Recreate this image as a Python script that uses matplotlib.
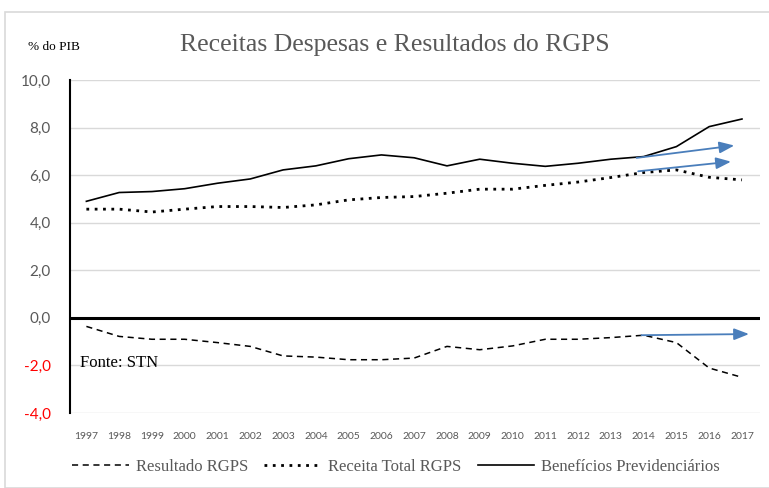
import matplotlib
matplotlib.use("Agg")
import matplotlib.pyplot as plt
from matplotlib.patches import Rectangle

# dados (% do PIB)
anos = list(range(1997, 2018))
beneficios = [4.9, 5.27, 5.31, 5.43, 5.66, 5.84, 6.22, 6.39, 6.69, 6.85, 6.73,
              6.39, 6.67, 6.50, 6.37, 6.50, 6.67, 6.78, 7.20, 8.04, 8.36]
receita = [4.57, 4.57, 4.45, 4.57, 4.68, 4.68, 4.64, 4.75, 4.96, 5.06, 5.10,
           5.24, 5.41, 5.41, 5.57, 5.71, 5.90, 6.11, 6.22, 5.91, 5.80]
resultado = [-0.36, -0.78, -0.90, -0.90, -1.04, -1.20, -1.60, -1.65, -1.76, -1.76, -1.69,
             -1.20, -1.34, -1.18, -0.90, -0.90, -0.83, -0.73, -1.04, -2.11, -2.50]

# setas de tendencia (inicio -> fim)
seta_x0 = [2013.7, 2013.75, 2013.85]
seta_y0 = [6.71, 6.15, -0.73]
seta_x1 = [2016.85, 2016.75, 2017.3]
seta_y1 = [7.26, 6.58, -0.68]

y_ticks = [-4, -2, 0, 2, 4, 6, 8, 10]

cinza = "#595959"
serif = "Liberation Serif"
sans = "Lato"

fig = plt.figure(figsize=(7.69, 4.88), dpi=100)
# moldura do grafico (estilo Excel)
fig.patches.append(Rectangle((5 / 769, 0), 1, 1 - 12 / 488, transform=fig.transFigure,
                             fill=False, edgecolor="#d9d9d9", linewidth=1.2))

ax = fig.add_axes([70 / 769, (488 - 413) / 488, 690 / 769, 333 / 488])

ax.plot(anos, resultado, color="black", linestyle=(0, (4, 3)), linewidth=1.1,
        label="Resultado RGPS")
ax.plot(anos, receita, color="black", linestyle=(0, (1, 2)), linewidth=2.0,
        label="Receita Total RGPS")
ax.plot(anos, beneficios, color="black", linestyle="-", linewidth=1.2,
        label="Benefícios Previdenciários")

for x0, y0, x1, y1 in zip(seta_x0, seta_y0, seta_x1, seta_y1):
    ax.annotate("", xy=(x1, y1), xytext=(x0, y0),
                arrowprops=dict(arrowstyle="-|>,head_length=0.9,head_width=0.35",
                                color="#4a7ebb", linewidth=1.3))

ax.axhline(0, color="black", linewidth=2.2, zorder=3)

ax.set_xlim(1996.5, 2017.55)
ax.set_ylim(-4, 10)
ax.set_yticks(y_ticks)
ax.set_yticklabels([f"{v:.1f}".replace(".", ",") for v in y_ticks],
                   fontsize=11, color=cinza, family=sans)
for lbl, v in zip(ax.get_yticklabels(), y_ticks):
    if v < 0:
        lbl.set_color("#ff0000")
ax.set_xticks(anos)
ax.set_xticklabels([str(a) for a in anos], fontsize=7.5, color=cinza, family=sans)
ax.tick_params(length=0, pad=14)
ax.tick_params(axis="y", pad=14)

ax.grid(axis="y", color="#d9d9d9", linewidth=1.0)
ax.set_axisbelow(True)
for s in ["top", "right", "bottom"]:
    ax.spines[s].set_visible(False)
ax.spines["left"].set_color("black")
ax.spines["left"].set_linewidth(1.5)

fig.text(395 / 769, 1 - 45 / 488, "Receitas Despesas e Resultados do RGPS",
         ha="center", va="center", fontsize=18.5, color=cinza, family=serif)
fig.text(28 / 769, 1 - 47 / 488, "% do PIB", ha="left", va="center",
         fontsize=9.5, color="black", family=serif)
ax.text(1996.79, -1.9, "Fonte: STN", ha="left", va="center", fontsize=12,
        color="black", family=serif)

leg = fig.legend(loc="center", bbox_to_anchor=(396 / 769, 1 - 467 / 488), ncol=3,
                 frameon=False, handlelength=3.4, columnspacing=1.0, handletextpad=0.4,
                 prop={"family": serif, "size": 12})
for t in leg.get_texts():
    t.set_color(cinza)

fig.savefig("out.png", dpi=100)
